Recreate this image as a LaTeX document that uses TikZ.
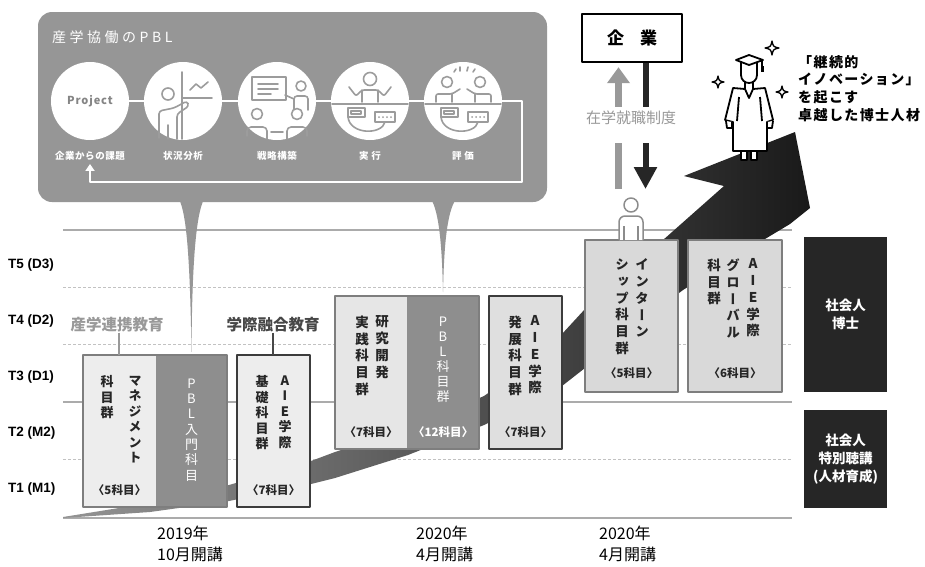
\documentclass[tikz,border=0pt]{standalone}
\usepackage{fontspec}
\setmainfont{Noto Sans CJK JP}
\newfontfamily\jpv{Noto Sans CJK JP}[RawFeature=+vert]
\newfontfamily\latn{Liberation Sans}
\usetikzlibrary{arrows.meta}

\definecolor{pblgray}{HTML}{969696}
\definecolor{colgray}{HTML}{8E8E8E}
\definecolor{rulegray}{HTML}{ABABAB}
\definecolor{dashgray}{HTML}{C2C2C2}
\definecolor{ink}{HTML}{262626}
\definecolor{icongray}{HTML}{9C9C9C}
\definecolor{softgray}{HTML}{999999}
\definecolor{midborder}{HTML}{7E7E7E}
\definecolor{darkborder}{HTML}{3C3C3C}
\definecolor{boxA}{HTML}{EDEDED}
\definecolor{boxC}{HTML}{E6E6E6}
\definecolor{boxD}{HTML}{DFDFDF}
\definecolor{boxE}{HTML}{D9D9D9}

\tikzset{
  rulesolid/.style={draw=rulegray, line width=1.5pt},
  ruledash/.style={draw=dashgray, line width=0.9pt, dash pattern=on 3pt off 2pt},
  tier/.style={anchor=west, inner sep=0pt, text=black, font=\latn\bfseries\fontsize{13.5}{14}\selectfont},
  panel/.style={anchor=north west, inner sep=0pt, outer sep=0pt},
  vcol/.style={anchor=north, inner sep=0pt, align=center, text=ink, font=\jpv\bfseries\fontsize{13}{15.5}\selectfont},
  vcolb/.style={vcol, font=\jpv\bfseries\fontsize{13.5}{16.8}\selectfont},
  pcol/.style={anchor=north, inner sep=0pt, align=center, text=white, font=\jpv\fontsize{13}{15.3}\selectfont},
  cnt/.style={inner sep=0pt, text=ink, font=\bfseries\fontsize{11.5}{12}\selectfont},
  stream/.style={inner sep=0pt, font=\bfseries\fontsize{15.5}{16}\selectfont},
  darkbox/.style={panel, fill=ink, text=white, align=center, font=\bfseries\fontsize{13.5}{18}\selectfont},
  date/.style={anchor=north west, inner sep=0pt, align=left, text=black, font=\fontsize{16}{21}\selectfont},
  stage/.style={circle, fill=white, minimum size=78pt, inner sep=0pt},
  stagelbl/.style={inner sep=0pt, text=white, font=\bfseries\fontsize{9.5}{10}\selectfont\addfontfeature{LetterSpace=6}},
  icon/.style={draw=icongray, line width=1.6pt, line cap=round, line join=round},
  iconfill/.style={icon, fill=white},
  gown/.style={draw=black, fill=white, line width=1.8pt, line join=round},
  loopline/.style={draw=white, line width=2.6pt},
}

\newcommand\twinkle[3]{%
  \filldraw[draw=black, fill=white, line width=1.3pt, line join=round]
  (#1,{#2-#3}) .. controls ({#1+0.18*#3},{#2-0.18*#3}) .. ({#1+#3},#2)
  .. controls ({#1+0.18*#3},{#2+0.18*#3}) .. (#1,{#2+#3})
  .. controls ({#1-0.18*#3},{#2+0.18*#3}) .. ({#1-#3},#2)
  .. controls ({#1-0.18*#3},{#2-0.18*#3}) .. (#1,{#2-#3}) -- cycle;}

\begin{document}
\begin{tikzpicture}[x=1pt,y=-1pt,line join=round]
\useasboundingbox (0,0) rectangle (925,566);
\fill[white] (0,0) rectangle (925,566);

% ---- tier rules ----
\foreach \yy in {230,402,518} {\draw[rulesolid] (63,\yy) -- (792,\yy);}
\foreach \yy in {287,344,459} {\draw[ruledash] (63,\yy) -- (792,\yy);}

\node[tier] (t5) at (8,265) {T5 (D3)};
\node[tier] (t4) at (8,321) {T4 (D2)};
\node[tier] (t3) at (8,377) {T3 (D1)};
\node[tier] (t2) at (8,433) {T2 (M2)};
\node[tier] (t1) at (8,489) {T1 (M1)};

% ---- rising arrow ----
\shade[left color=black!42, right color=black!90]
  (63,517) -- (150,503) -- (229,485) -- (311,461) -- (335,452) -- (420,424)
  -- (484,396) -- (530,364) -- (562,334) -- (585,309) -- (625,274) -- (663,240)
  -- (724,186) -- (684,176) -- (795,132) -- (810,208) -- (790,224) -- (740,254)
  -- (683,290) -- (630,330) -- (585,368) -- (562,386) -- (520,408) -- (484,425)
  -- (408,455) -- (335,478) -- (311,484) -- (229,501) -- (150,512) -- (63,518) -- cycle;

% ---- PBL panel ----
\node[panel, fill=pblgray, rounded corners=14pt, minimum width=509pt, minimum height=190pt] (pbl) at (38,12) {};
\node[anchor=west, inner sep=0pt, text=white, font=\fontsize{14}{15}\selectfont\addfontfeature{LetterSpace=25}] (pbltitle) at (52,37) {産学協働のPBL};

\node[stage] (circ1) at (90,101) {};
\node[stage] (circ2) at (183,101) {};
\node[stage] (circ3) at (277,101) {};
\node[stage] (circ4) at (370,101) {};
\node[stage] (circ5) at (463,101) {};
\draw[loopline] (circ1.east) -- (circ2.west);
\draw[loopline] (circ2.east) -- (circ3.west);
\draw[loopline] (circ3.east) -- (circ4.west);
\draw[loopline] (circ4.east) -- (circ5.west);

\node[stagelbl] (lbl1) at ([yshift=-16pt]circ1.south) {企業からの課題};
\node[stagelbl] (lbl2) at ([yshift=-16pt]circ2.south) {状況分析};
\node[stagelbl] (lbl3) at ([yshift=-16pt]circ3.south) {戦略構築};
\node[stagelbl] (lbl4) at ([yshift=-16pt]circ4.south) {実 行};
\node[stagelbl] (lbl5) at ([yshift=-16pt]circ5.south) {評 価};
\draw[loopline, -{Triangle[width=9pt,length=7pt]}, shorten >=3pt] (circ5.east) -| (522,182) -| (lbl1.south);

% stage 1
\node[inner sep=0pt, text=icongray!85!black, font=\bfseries\fontsize{11}{12}\selectfont\addfontfeature{LetterSpace=8}] (projtxt) at (circ1) {Project};

% stage 2: analysis
\begin{scope}[shift={(circ2.center)}]
  \draw[icon] (-1,-29) -- (-1,38);
  \draw[icon] (-1,-3) -- (29,-3);
  \draw[icon] (7,-11) -- (13,-17) -- (18,-13) -- (25,-19);
  \draw[iconfill] (-15,-7) circle (6);
  \draw[icon, rounded corners=3pt] (-24,37) -- (-24,10) -- (-9,7) -- (4,0) -- (6,5) -- (-6,13) -- (-6,38);
  \draw[icon] (-15,24) -- (-15,38);
\end{scope}

% stage 3: strategy
\begin{scope}[shift={(circ3.center)}]
  \draw[icon] (-25,-24) rectangle (9,-1);
  \draw[icon] (-19,-17) -- (1,-17) (-19,-12) -- (1,-12) (-19,-7) -- (-6,-7);
  \draw[iconfill] (24,-15) circle (5);
  \draw[icon, rounded corners=3pt] (17,9) -- (17,-5) -- (31,-5) -- (31,9);
  \draw[icon] (17,-2) -- (8,-6);
  \draw[iconfill] (-20,13) circle (5.5);
  \draw[icon, rounded corners=4pt] (-30,35) -- (-30,26) -- (-10,26) -- (-10,38);
  \draw[iconfill] (20,13) circle (5.5);
  \draw[icon, rounded corners=4pt] (10,38) -- (10,26) -- (30,26) -- (30,35);
  \draw[icon] (-6,31) -- (6,31);
\end{scope}

% stage 4: execution
\begin{scope}[shift={(circ4.center)}]
  \draw[iconfill] (0,-22) circle (6.5);
  \draw[icon, rounded corners=2pt] (-21,-14) -- (-14,-5) -- (-8,-11) -- (8,-11) -- (14,-5) -- (21,-14);
  \draw[icon] (-8,-11) -- (-8,1) (8,-11) -- (8,1);
  \draw[icon] (-38,3) -- (38,3);
  \draw[icon] (-22,16) .. controls (-20,34) and (12,34) .. (15,21);
  \draw[iconfill] (-22,7) rectangle (-5,16);
  \draw[icon] (-19,10) rectangle (-9,13);
  \draw[iconfill] (5,11) rectangle (25,21);
  \foreach \dx in {9,13,17,21} {\fill[icongray] (\dx,16) circle (1);}
\end{scope}

% stage 5: review
\begin{scope}[shift={(circ5.center)}]
  \draw[iconfill] (-16,-19) circle (5.5);
  \draw[iconfill] (17,-19) circle (5.5);
  \draw[icon, rounded corners=2pt] (-27,1) -- (-27,-7) -- (-11,-7) -- (-3,-12);
  \draw[icon] (-11,-7) -- (-11,1);
  \draw[icon, rounded corners=2pt] (28,1) -- (28,-7) -- (12,-7) -- (4,-12);
  \draw[icon] (12,-7) -- (12,1);
  \draw[icon] (-9,-29) -- (-7,-32) (-3,-30) -- (-3,-34) (4,-30) -- (5,-34) (10,-29) -- (12,-32);
  \draw[icon] (-38,3) -- (38,3);
  \draw[icon] (-22,16) .. controls (-20,34) and (12,34) .. (15,21);
  \draw[iconfill] (-22,7) rectangle (-5,16);
  \draw[icon] (-19,10) rectangle (-9,13);
  \draw[iconfill] (5,11) rectangle (25,21);
  \foreach \dx in {9,13,17,21} {\fill[icongray] (\dx,16) circle (1);}
\end{scope}

% ---- course boxes ----
% industry-academia management + PBL intro
\node[panel, fill=boxA, minimum width=73pt, minimum height=152pt] (mgmt) at (83,355) {};
\node[panel, fill=colgray, minimum width=71pt, minimum height=152pt] (pblA) at (156,355) {};
\draw[draw=midborder, line width=1.3pt] (mgmt.north west) rectangle (pblA.south east);
\node[vcol] (mgmtR) at (135,375.5) {マ\\ネ\\ジ\\メ\\ン\\ト};
\node[vcol] (mgmtL) at (107,375.5) {科\\目\\群};
\node[cnt] (mgmtN) at (119.5,490) {〈5科目〉};
\node[pcol] (pblAt) at (191.5,378.5) {P\\B\\L\\入\\門\\科\\目};

% AIE basic
\node[panel, fill=boxA, draw=darkborder, line width=1.5pt, minimum width=73pt, minimum height=152pt] (aieB) at (237,355) {};
\node[vcol] (aieBR) at (285,375.5) {A\\I\\E\\学\\際};
\node[vcol] (aieBL) at (262,375.5) {基\\礎\\科\\目\\群};
\node[cnt] (aieBN) at (273.5,490) {〈7科目〉};

% research practice + PBL
\node[panel, fill=boxC, minimum width=72pt, minimum height=153pt] (jissen) at (335,296) {};
\node[panel, fill=colgray, minimum width=72pt, minimum height=153pt] (pblB) at (407,296) {};
\draw[draw=midborder, line width=1.3pt] (jissen.north west) rectangle (pblB.south east);
\node[vcolb] (jissenR) at (382,315.5) {研\\究\\開\\発};
\node[vcolb] (jissenL) at (362,315.5) {実\\践\\科\\目\\群};
\node[cnt] (jissenN) at (371,432) {〈7科目〉};
\node[pcol, font=\jpv\fontsize{13}{15}\selectfont] (pblBt) at (443,316.5) {P\\B\\L\\科\\目\\群};
\node[cnt, text=white] (pblBN) at (443,432) {〈12科目〉};

% AIE advanced
\node[panel, fill=boxD, draw=darkborder, line width=1.5pt, minimum width=73pt, minimum height=153pt] (aieH) at (489,296) {};
\node[vcolb] (aieHR) at (535,315.5) {A\\I\\E\\学\\際};
\node[vcolb] (aieHL) at (515,315.5) {発\\展\\科\\目\\群};
\node[cnt] (aieHN) at (525.5,432) {〈7科目〉};

% internship
\node[panel, fill=boxE, draw=midborder, line width=1.3pt, minimum width=93pt, minimum height=152pt] (intern) at (585,240) {};
\node[vcolb] (internR) at (642,258.5) {イ\\ン\\タ\\ー\\ン};
\node[vcolb] (internL) at (622,258.5) {シ\\ッ\\プ\\科\\目\\群};
\node[cnt] (internN) at (631.5,373) {〈5科目〉};

% AIE global
\node[panel, fill=boxE, draw=midborder, line width=1.3pt, minimum width=94pt, minimum height=152pt] (global) at (688,240) {};
\node[vcolb] (globalR) at (753,258.5) {A\\I\\E\\学\\際};
\node[vcolb] (globalM) at (733,258.5) {グ\\ロ\\ー\\バ\\ル};
\node[vcolb] (globalL) at (714,258.5) {科\\目\\群};
\node[cnt] (globalN) at (735,373) {〈6科目〉};

% ---- callout tails from the PBL panel ----
\fill[pblgray] (179,199) .. controls (187,215) and (190,262) .. ([yshift=3pt]pblA.north)
  .. controls (192,262) and (196,215) .. (204,199) -- cycle;
\fill[pblgray] (431,199) .. controls (439,212) and (442,245) .. ([yshift=4pt]pblB.north)
  .. controls (444,245) and (447,212) .. (456,199) -- cycle;

% ---- stream labels ----
\node[stream, text=softgray] (sangaku) at (117,325) {産学連携教育};
\node[stream, text=ink!85] (gakusai) at (273,325) {学際融合教育};
\draw[draw=softgray, line width=1.3pt] ([xshift=2pt]sangaku.south) -- ([xshift=2pt]sangaku.south |- mgmt.north);
\draw[draw=ink!85, line width=1.3pt] (gakusai.south) -- (gakusai.south |- aieB.north);

% ---- working adults ----
\node[darkbox, minimum width=83pt, minimum height=155pt] (shakaiD) at (804,237) {社会人\\博士};
\node[darkbox, minimum width=83pt, minimum height=98pt] (shakaiM) at (804,410) {社会人\\特別聴講\\(人材育成)};

% ---- dates ----
\node[date] (date1) at (157,526) {2019年\\10月開講};
\node[date] (date2) at (416,526) {2020年\\4月開講};
\node[date] (date3) at (599,526) {2020年\\4月開講};

% ---- company and enrolled-employment scheme ----
\node[draw=black, line width=2.4pt, minimum width=100pt, minimum height=48pt, inner sep=0pt,
      font=\bfseries\fontsize{17}{18}\selectfont] (kigyo) at (632,38) {企\hspace{16pt}業};
\coordinate (visitor) at (631,189);
\draw[line width=7pt, draw=softgray, -{Triangle[width=22pt,length=16pt]}, shorten >=4pt]
  ([xshift=-13.5pt]kigyo.south |- visitor) -- ([xshift=-13.5pt]kigyo.south);
\draw[line width=6pt, draw=ink, -{Triangle[width=22pt,length=22pt]}]
  ([xshift=13.5pt]kigyo.south) -- ([xshift=13.5pt]kigyo.south |- visitor);
\node[fill=white, minimum width=100pt, minimum height=36pt, inner sep=0pt] (gap) at (631,125) {};
\node[inner sep=0pt, text=softgray, font=\fontsize{15}{16}\selectfont] (seido) at (631,118) {在学就職制度};

% student figure on the internship box
\draw[draw=icongray!90!black, fill=white, line width=1.5pt, rounded corners=6pt]
  (619,240) -- (619,216) -- (643,216) -- (643,240);
\draw[draw=icongray!90!black, line width=1.5pt] (624,226) -- (624,240) (638,226) -- (638,240);
\draw[draw=icongray!90!black, fill=white, line width=1.5pt] (631,205) circle (7);

% ---- graduate on the arrow ----
\draw[gown] (733,88) -- (745,89) -- (749,98) -- (753,89) -- (765,88) -- (773,120) -- (767,122)
  -- (767,151) -- (733,151) -- (733,122) -- (725,120) -- cycle;
\draw[gown] (739,97) -- (737,121) (760,97) -- (762,121);
\draw[gown] (726,121) -- (727,128) -- (732,128) -- (732,122);
\draw[gown] (767,122) -- (767,128) -- (772,128) -- (773,121);
\draw[gown] (741,151) rectangle (747,160);
\draw[gown] (751,151) rectangle (757,160);
\draw[gown] (745,82) -- (745,89) (753,82) -- (753,89);
\draw[gown] (741,61) -- (741,75) .. controls (741,80) and (745,83) .. (749,83)
  .. controls (753,83) and (757,80) .. (757,75) -- (757,61) -- cycle;
\draw[gown] (736,60) -- (749,55) -- (763,60) -- (749,65) -- cycle;
\draw[draw=black, line width=1.5pt] (762,60) -- (762,69);
\fill[black] (760.5,66) rectangle (763.5,72);
\twinkle{772}{48}{7}
\twinkle{718}{82}{6}
\twinkle{782}{92}{6}

\node[anchor=north west, inner sep=0pt, align=left, text=black,
      font=\bfseries\fontsize{14}{17.7}\selectfont\addfontfeature{LetterSpace=10}] (talent) at (798,55)
  {「継続的\\イノベーション」\\を起こす\\卓越した博士人材};
\end{tikzpicture}
\end{document}
